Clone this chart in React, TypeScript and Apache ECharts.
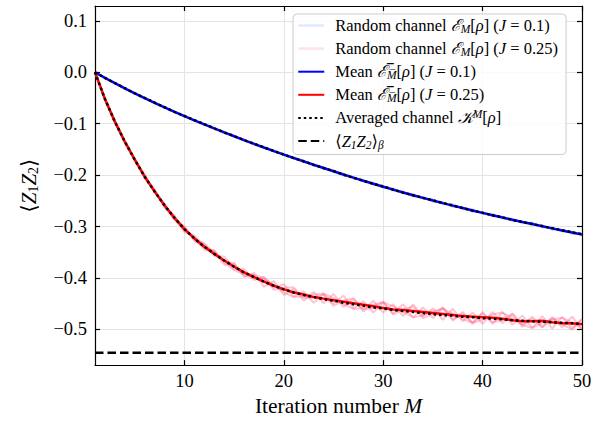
import React, { useEffect, useRef } from "react";
import * as echarts from "echarts";

const iterations = [
  1, 2, 3, 4, 5, 6, 7, 8, 9, 10, 11, 12, 13, 14, 15, 16, 17, 18, 19, 20, 21, 22, 23, 24, 25,
  26, 27, 28, 29, 30, 31, 32, 33, 34, 35, 36, 37, 38, 39, 40, 41, 42, 43, 44, 45, 46, 47, 48, 49, 50,
];
const xTicks = [10, 20, 30, 40, 50];
const yTicks = [-0.5, -0.4, -0.3, -0.2, -0.1, 0.0, 0.1];

const meanJ01 = [
  0, -0.0108, -0.0212, -0.0312, -0.0409, -0.0503, -0.0594, -0.0682, -0.0768, -0.0852,
  -0.0934, -0.1014, -0.1092, -0.1169, -0.1244, -0.1318, -0.1391, -0.1463, -0.1532, -0.16,
  -0.1667, -0.1733, -0.1798, -0.1862, -0.1925, -0.1987, -0.2048, -0.2108, -0.2167, -0.2225,
  -0.2281, -0.2336, -0.239, -0.2442, -0.2493, -0.2543, -0.2592, -0.264, -0.2687, -0.2733,
  -0.2778, -0.2822, -0.2866, -0.2909, -0.2951, -0.2993, -0.3034, -0.3075, -0.3115, -0.3155,
];
const kraus01 = [
  0, -0.011, -0.021, -0.031, -0.041, -0.05, -0.059, -0.068, -0.077, -0.085,
  -0.093, -0.101, -0.109, -0.117, -0.124, -0.132, -0.139, -0.146, -0.153, -0.16,
  -0.167, -0.173, -0.18, -0.186, -0.192, -0.199, -0.205, -0.211, -0.217, -0.222,
  -0.228, -0.234, -0.239, -0.244, -0.249, -0.254, -0.259, -0.264, -0.269, -0.273,
  -0.278, -0.282, -0.287, -0.291, -0.295, -0.299, -0.303, -0.307, -0.311, -0.315,
];
const randJ01a = [
  0, -0.01, -0.022, -0.03, -0.042, -0.049, -0.061, -0.067, -0.078, -0.084,
  -0.095, -0.1, -0.111, -0.115, -0.126, -0.13, -0.141, -0.145, -0.155, -0.158,
  -0.169, -0.171, -0.182, -0.184, -0.195, -0.197, -0.207, -0.209, -0.219, -0.22,
  -0.231, -0.231, -0.242, -0.242, -0.252, -0.252, -0.262, -0.262, -0.272, -0.271,
  -0.281, -0.28, -0.29, -0.289, -0.298, -0.297, -0.307, -0.305, -0.315, -0.313,
];
const randJ01b = [
  0, -0.012, -0.02, -0.033, -0.039, -0.052, -0.058, -0.07, -0.075, -0.087,
  -0.092, -0.103, -0.108, -0.119, -0.123, -0.134, -0.137, -0.148, -0.151, -0.162,
  -0.165, -0.176, -0.178, -0.189, -0.19, -0.201, -0.203, -0.213, -0.214, -0.225,
  -0.225, -0.236, -0.236, -0.247, -0.246, -0.257, -0.256, -0.267, -0.266, -0.276,
  -0.275, -0.285, -0.284, -0.294, -0.292, -0.302, -0.301, -0.31, -0.309, -0.318,
];

const meanJ025 = [
  0, -0.052, -0.096, -0.135, -0.17, -0.203, -0.232, -0.259, -0.283, -0.305,
  -0.323, -0.339, -0.353, -0.366, -0.378, -0.389, -0.398, -0.407, -0.415, -0.422,
  -0.428, -0.432, -0.437, -0.44, -0.443, -0.446, -0.449, -0.452, -0.455, -0.458,
  -0.461, -0.462, -0.464, -0.466, -0.468, -0.47, -0.472, -0.474, -0.475, -0.476,
  -0.477, -0.479, -0.482, -0.484, -0.484, -0.483, -0.486, -0.488, -0.488, -0.49,
];
const kraus025 = [
  0, -0.052, -0.096, -0.135, -0.17, -0.203, -0.232, -0.259, -0.283, -0.305,
  -0.323, -0.339, -0.353, -0.366, -0.378, -0.389, -0.398, -0.407, -0.415, -0.422,
  -0.428, -0.433, -0.437, -0.441, -0.444, -0.448, -0.451, -0.454, -0.457, -0.459,
  -0.462, -0.464, -0.466, -0.468, -0.47, -0.472, -0.473, -0.475, -0.476, -0.478,
  -0.479, -0.48, -0.482, -0.483, -0.484, -0.485, -0.486, -0.487, -0.488, -0.489,
];
const randJ025a = [
  0, -0.053, -0.094, -0.137, -0.167, -0.206, -0.228, -0.263, -0.278, -0.311,
  -0.317, -0.346, -0.346, -0.374, -0.372, -0.398, -0.39, -0.417, -0.406, -0.433,
  -0.421, -0.444, -0.427, -0.449, -0.431, -0.456, -0.441, -0.465, -0.444, -0.467,
  -0.451, -0.474, -0.451, -0.474, -0.459, -0.481, -0.46, -0.484, -0.467, -0.489,
  -0.466, -0.488, -0.47, -0.495, -0.475, -0.495, -0.476, -0.496, -0.475, -0.5,
];
const randJ025b = [
  0, -0.051, -0.097, -0.133, -0.172, -0.2, -0.233, -0.255, -0.286, -0.3,
  -0.325, -0.333, -0.357, -0.358, -0.383, -0.382, -0.404, -0.398, -0.419, -0.412,
  -0.436, -0.426, -0.448, -0.431, -0.45, -0.434, -0.459, -0.445, -0.467, -0.448,
  -0.469, -0.451, -0.477, -0.457, -0.478, -0.458, -0.483, -0.466, -0.489, -0.466,
  -0.489, -0.466, -0.491, -0.473, -0.497, -0.474, -0.498, -0.476, -0.498, -0.479,
];
const randJ025c = [
  0, -0.053, -0.098, -0.136, -0.169, -0.2, -0.23, -0.261, -0.287, -0.308,
  -0.321, -0.334, -0.35, -0.37, -0.385, -0.392, -0.394, -0.4, -0.413, -0.428,
  -0.437, -0.436, -0.432, -0.43, -0.439, -0.451, -0.46, -0.458, -0.452, -0.447,
  -0.455, -0.466, -0.476, -0.473, -0.464, -0.46, -0.469, -0.48, -0.487, -0.481,
  -0.471, -0.467, -0.478, -0.491, -0.497, -0.487, -0.481, -0.477, -0.486, -0.498,
];
const randJ025d = [
  0, -0.051, -0.094, -0.134, -0.172, -0.204, -0.229, -0.258, -0.285, -0.301,
  -0.328, -0.341, -0.347, -0.367, -0.371, -0.395, -0.4, -0.402, -0.423, -0.419,
  -0.418, -0.439, -0.438, -0.432, -0.454, -0.444, -0.439, -0.461, -0.458, -0.446,
  -0.471, -0.461, -0.455, -0.478, -0.47, -0.457, -0.48, -0.47, -0.486, -0.469,
  -0.486, -0.482, -0.469, -0.49, -0.479, -0.496, -0.478, -0.49, -0.5, -0.481,
];
const thermalValue = -0.545;

const NAME_R1 = "Random channel (J = 0.1)";
const NAME_R2 = "Random channel (J = 0.25)";
const NAME_M1 = "Mean (J = 0.1)";
const NAME_M2 = "Mean (J = 0.25)";
const NAME_K = "Averaged channel";
const NAME_T = "<Z1Z2>beta";

const legendRich: Record<string, string> = {
  [NAME_R1]: "Random channel {cal|ℰ}{sub|M}[{i|ρ}] ({i|J} = 0.1)",
  [NAME_R2]: "Random channel {cal|ℰ}{sub|M}[{i|ρ}] ({i|J} = 0.25)",
  [NAME_M1]: "Mean {cal|ℰ\u0305}{sub|M\u0305}[{i|ρ}] ({i|J} = 0.1)",
  [NAME_M2]: "Mean {cal|ℰ\u0305}{sub|M\u0305}[{i|ρ}] ({i|J} = 0.25)",
  [NAME_K]: "Averaged channel {cal|𝒦}{sup|M}[{i|ρ}]",
  [NAME_T]: "⟨{i|Z}{sub|1}{i|Z}{sub|2}⟩{sub|β}",
};

const FONT = "'Liberation Serif', 'DejaVu Serif', serif";
const LF = 16.5;

const pairs = (arr: number[]) => iterations.map((m, i) => [m, arr[i]]);

export default function App() {
  const ref = useRef<HTMLDivElement>(null);
  useEffect(() => {
    const chart = echarts.init(ref.current!, null, { renderer: "svg" });
    const axisLineStyle = { color: "#000", width: 1.2 };
    const tickStyle = { color: "#000", width: 1.2 };
    const line = (name: string, data: number[], color: string, width: number, type: any = "solid", z = 2) => ({
      type: "line",
      name,
      data: pairs(data),
      showSymbol: false,
      symbol: "none",
      lineStyle: { color, width, type },
      itemStyle: { color },
      z,
      silent: true,
    });
    const pinkTrace = "rgba(255,80,125,0.33)";
    const blueTrace = "rgba(120,150,255,0.35)";
    chart.setOption({
      animation: false,
      backgroundColor: "#fff",
      grid: { left: 95, right: 26, top: 6, bottom: 53, containLabel: false },
      xAxis: [
        {
          type: "value",
          min: 1,
          max: 50,
          position: "bottom",
          axisLine: { show: true, onZero: false, lineStyle: axisLineStyle },
          axisTick: { show: true, inside: true, length: 5, customValues: xTicks, lineStyle: tickStyle },
          axisLabel: { customValues: xTicks, fontSize: 18.5, color: "#000", fontFamily: FONT, margin: 6 },
          splitLine: { show: true, lineStyle: { color: "#e4e4e4", width: 1 } },
          name: "Iteration number {i|M}",
          nameLocation: "middle",
          nameGap: 29,
          nameTextStyle: {
            fontSize: 21.5,
            color: "#000",
            fontFamily: FONT,
            rich: { i: { fontStyle: "italic", fontSize: 21.5, fontFamily: FONT, color: "#000" } },
          },
        },
        {
          type: "value",
          min: 1,
          max: 50,
          position: "top",
          axisLine: { show: true, onZero: false, lineStyle: axisLineStyle },
          axisTick: { show: true, inside: true, length: 5, customValues: xTicks, lineStyle: tickStyle },
          axisLabel: { show: false },
          splitLine: { show: false },
        },
      ],
      yAxis: [
        {
          type: "value",
          min: -0.5692,
          max: 0.1288,
          position: "left",
          axisLine: { show: true, onZero: false, lineStyle: axisLineStyle },
          axisTick: { show: true, inside: true, length: 5, customValues: yTicks, lineStyle: tickStyle },
          axisLabel: {
            customValues: yTicks,
            fontSize: 18.5,
            color: "#000",
            fontFamily: FONT,
            margin: 8,
            formatter: (v: number) => (v < -1e-9 ? "\u2212" : "") + Math.abs(v).toFixed(1),
          },
          splitLine: { show: true, lineStyle: { color: "#e4e4e4", width: 1 } },
          name: "⟨{i|Z}{s|1}{i|Z}{s|2}⟩",
          nameLocation: "middle",
          nameRotate: 90,
          nameGap: 55,
          nameTextStyle: {
            fontSize: 21,
            color: "#000",
            fontFamily: FONT,
            rich: {
              i: { fontStyle: "italic", fontSize: 21, fontFamily: FONT, color: "#000" },
              s: { fontSize: 14, fontFamily: FONT, color: "#000", padding: [9, 0, 0, 0] },
            },
          },
        },
        {
          type: "value",
          min: -0.5692,
          max: 0.1288,
          position: "right",
          axisLine: { show: true, onZero: false, lineStyle: axisLineStyle },
          axisTick: { show: true, inside: true, length: 5, customValues: yTicks, lineStyle: tickStyle },
          axisLabel: { show: false },
          splitLine: { show: false },
        },
      ],
      legend: {
        orient: "vertical",
        left: 293,
        top: 14,
        padding: [2, 8, 4, 4],
        itemWidth: 26,
        itemHeight: 10,
        itemGap: 4.1,
        backgroundColor: "rgba(255,255,255,0.85)",
        borderColor: "#cccccc",
        borderWidth: 1,
        borderRadius: 4,
        selectedMode: false,
        itemStyle: { color: "rgba(0,0,0,0)", borderColor: "rgba(0,0,0,0)", borderWidth: 0, opacity: 0 },
        data: [
          { name: NAME_R1, lineStyle: { color: "#e2eaff", width: 2.5 } },
          { name: NAME_R2, lineStyle: { color: "#fde2e8", width: 2.5 } },
          { name: NAME_M1 },
          { name: NAME_M2 },
          { name: NAME_K },
          { name: NAME_T },
        ],
        formatter: (name: string) => legendRich[name] || name,
        textStyle: {
          fontSize: LF,
          fontFamily: FONT,
          color: "#000",
          lineHeight: 17,
          padding: [0, 0, 0, 6],
          rich: {
            i: { fontStyle: "italic", fontSize: LF, fontFamily: FONT, lineHeight: 17 },
            cal: { fontStyle: "italic", fontSize: LF, fontFamily: "'DejaVu Serif', serif", lineHeight: 17 },
            sub: { fontSize: 11.5, fontFamily: FONT, fontStyle: "italic", lineHeight: 11, padding: [7, 0, 0, 0] },
            sup: { fontSize: 11.5, fontFamily: FONT, fontStyle: "italic", lineHeight: 11, padding: [0, 0, 7, 0] },
          },
        },
      },
      series: [
        line(NAME_R1, randJ01a, blueTrace, 1.5, "solid", 1),
        line(NAME_R1, randJ01b, blueTrace, 1.5, "solid", 1),
        line(NAME_R2, randJ025a, pinkTrace, 2, "solid", 1),
        line(NAME_R2, randJ025b, pinkTrace, 2, "solid", 1),
        line(NAME_R2, randJ025c, pinkTrace, 2, "solid", 1),
        line(NAME_R2, randJ025d, pinkTrace, 2, "solid", 1),
        line(NAME_M1, meanJ01, "#0000ff", 2.5, "solid", 2),
        line(NAME_M2, meanJ025, "#ff0000", 2.5, "solid", 2),
        line(NAME_K, kraus01, "#000000", 2.5, [2.5, 3], 3),
        line(NAME_K, kraus025, "#000000", 2.5, [2.5, 3], 3),
        {
          type: "line",
          name: NAME_T,
          data: [
            [iterations[0], thermalValue],
            [iterations[iterations.length - 1], thermalValue],
          ],
          showSymbol: false,
          symbol: "none",
          lineStyle: { color: "#000", width: 2.5, type: [8.5, 4] },
          itemStyle: { color: "#000" },
          z: 3,
          silent: true,
        },
      ],
    });
    return () => chart.dispose();
  }, []);
  return <div ref={ref} style={{ position: "fixed", left: 0, top: 0, width: 608, height: 422 }} />;
}
